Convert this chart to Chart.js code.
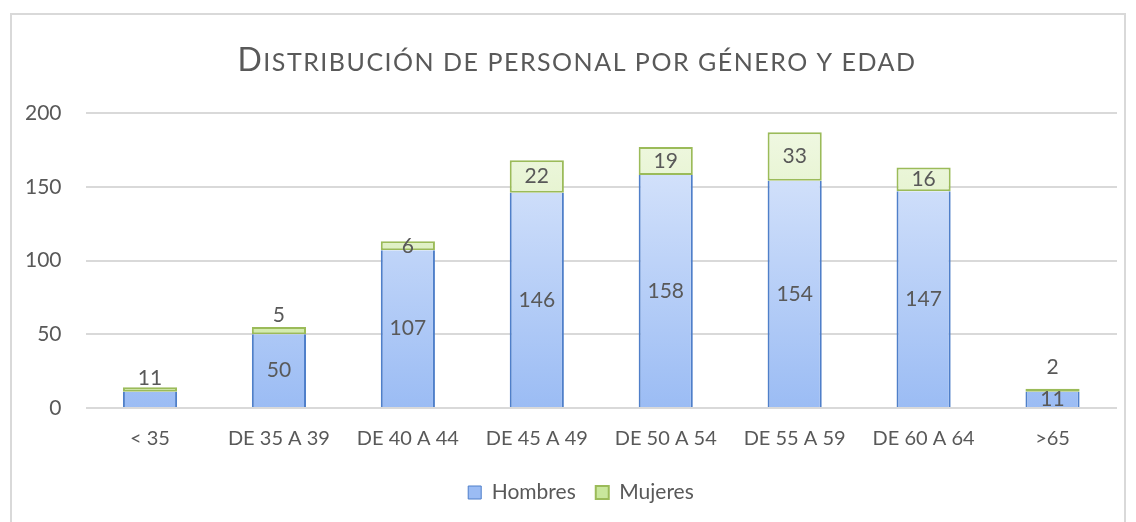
<!DOCTYPE html>
<html>
<head>
<meta charset="utf-8">
<script src="https://cdn.jsdelivr.net/npm/chart.js@4.4.1/dist/chart.umd.min.js"></script>
<style>
  html, body { margin: 0; padding: 0; background: #fff; }
  .marco { position: absolute; left: 10px; top: 13px; width: 1116px; height: 520px; border: 2px solid #d9d9d9; box-sizing: border-box; }
  #grafico { position: absolute; left: 0; top: 0; }
</style>
</head>
<body>
<div class="marco"></div>
<canvas id="grafico" width="1136" height="522"></canvas>
<script>
// Datos
const categorias = ['< 35', 'DE 35 A 39', 'DE 40 A 44', 'DE 45 A 49', 'DE 50 A 54', 'DE 55 A 59', 'DE 60 A 64', '>65'];
const hombres = [11, 50, 107, 146, 158, 154, 147, 11];
const mujeres = [3, 5, 6, 22, 19, 33, 16, 2];
const ticksY = [0, 50, 100, 150, 200];
const titulo = 'Distribución de personal por género y edad';

const fuente = 'Lato, "Open Sans", sans-serif';
const gris = '#595959';

// degradado vertical para cada serie
function degradado(ctx, arriba, abajo) {
  const area = ctx.chart.chartArea;
  if (!area) return arriba;
  const g = ctx.chart.ctx.createLinearGradient(0, area.top, 0, area.bottom);
  g.addColorStop(0, arriba);
  g.addColorStop(1, abajo);
  return g;
}

// Título en versalitas (primera letra grande, resto en mayúscula pequeña)
const tituloVersalitas = {
  id: 'tituloVersalitas',
  afterLayout(chart) {
    // la leyenda va un poco a la derecha del centro
    chart.legend.left += 22;
    chart.legend.right += 22;
  },
  afterDraw(chart) {
    const ctx = chart.ctx;
    const primera = titulo.charAt(0);
    const resto = titulo.slice(1).toUpperCase();
    const fGrande = '32px ' + fuente;
    const fChica = '25px ' + fuente;
    ctx.save();
    ctx.fillStyle = gris;
    ctx.textBaseline = 'alphabetic';
    ctx.letterSpacing = '1.5px';
    ctx.font = fGrande;
    const w1 = ctx.measureText(primera).width;
    ctx.font = fChica;
    const w2 = ctx.measureText(resto).width;
    const x0 = (chart.width - w1 - w2) / 2 + 9;
    const yBase = 71;
    ctx.font = fGrande;
    ctx.fillText(primera, x0, yBase);
    ctx.font = fChica;
    ctx.fillText(resto, x0 + w1, yBase);
    ctx.restore();
  }
};

// Etiquetas de datos (centradas; las muy pequeñas van encima de la barra)
const etiquetas = {
  id: 'etiquetas',
  afterDatasetsDraw(chart) {
    const ctx = chart.ctx;
    ctx.save();
    ctx.font = '21px ' + fuente;
    ctx.fillStyle = gris;
    ctx.textAlign = 'center';
    ctx.textBaseline = 'middle';
    const mH = chart.getDatasetMeta(0).data;
    const mM = chart.getDatasetMeta(1).data;
    categorias.forEach((c, i) => {
      const bh = mH[i], bm = mM[i];
      const alto = bm.base - bm.y;
      // primera barra: solo se muestra el valor de hombres, encima
      if (i === 0) {
        ctx.fillText(hombres[i], bh.x, bm.y - 9);
        return;
      }
      ctx.fillText(hombres[i], bh.x, (bh.y + bh.base) / 2);
      if (alto < 4) ctx.fillText(mujeres[i], bm.x, bm.y - 22);
      else if (alto < 8) ctx.fillText(mujeres[i], bm.x, bm.y - 12);
      else ctx.fillText(mujeres[i], bm.x, (bm.y + bm.base) / 2);
    });
    ctx.restore();
  }
};

new Chart(document.getElementById('grafico'), {
  type: 'bar',
  data: {
    labels: categorias,
    datasets: [
      {
        label: 'Hombres',
        data: hombres,
        backgroundColor: c => degradado(c, '#e0eafc', '#9bbcf4'),
        borderColor: '#4f7fc9',
        borderWidth: { left: 2, right: 2, top: 0, bottom: 0 },
        borderSkipped: false
      },
      {
        label: 'Mujeres',
        data: mujeres,
        backgroundColor: c => degradado(c, '#f2f9e6', '#c9e79c'),
        borderColor: '#9bbb59',
        borderWidth: 2,
        borderSkipped: false
      }
    ]
  },
  options: {
    responsive: false,
    animation: false,
    barPercentage: 0.7,
    categoryPercentage: 0.6,
    layout: { padding: { left: 1, right: 19, top: 113, bottom: 9 } },
    plugins: {
      title: { display: false },
      legend: {
        position: 'bottom',
        labels: {
          color: gris,
          font: { family: fuente, size: 21 },
          boxWidth: 13,
          boxHeight: 13,
          padding: 20
        }
      },
      tooltip: { enabled: false }
    },
    scales: {
      x: {
        stacked: true,
        grid: { display: false },
        border: { display: false },
        ticks: { color: gris, font: { family: fuente, size: 20 }, padding: 11 }
      },
      y: {
        stacked: true,
        min: 0,
        max: 200,
        afterBuildTicks: ax => { ax.ticks = ticksY.map(v => ({ value: v })); },
        grid: { color: '#d9d9d9', lineWidth: 2, drawTicks: false },
        border: { display: false },
        ticks: { color: gris, font: { family: fuente, size: 21 }, padding: 24 }
      }
    }
  },
  plugins: [etiquetas, tituloVersalitas]
});
</script>
</body>
</html>
